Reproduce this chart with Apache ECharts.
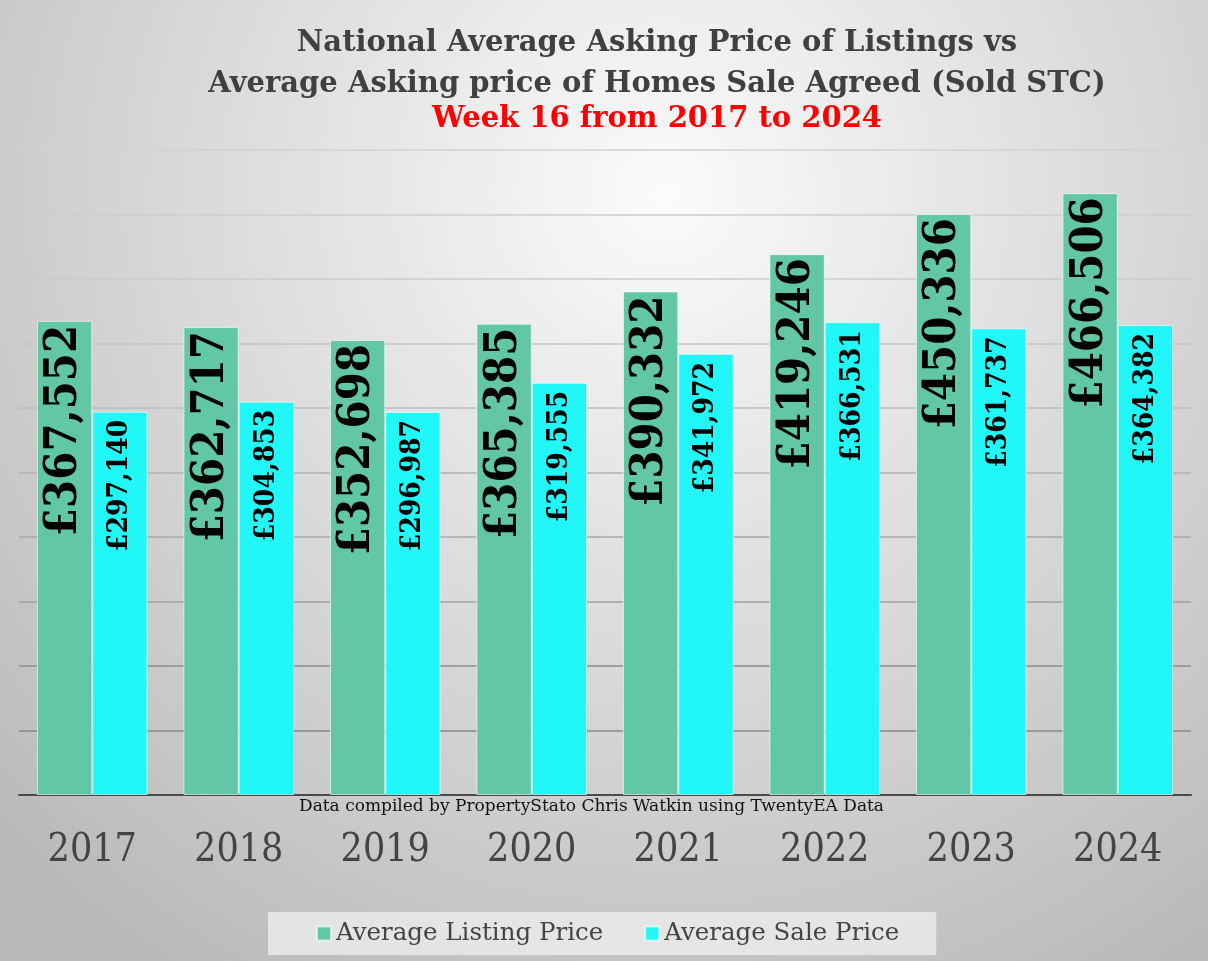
<!DOCTYPE html>
<html>
<head>
<meta charset="utf-8">
<script src="https://cdn.jsdelivr.net/npm/echarts@6/dist/echarts.min.js"></script>
<style>
html,body{margin:0;padding:0;}
#chart{width:1208px;height:961px;}
</style>
</head>
<body>
<div id="chart"></div>
<script>
const years = ['2017','2018','2019','2020','2021','2022','2023','2024'];
const listingPrice = [367552, 362717, 352698, 365385, 390332, 419246, 450336, 466506];
const salePrice = [297140, 304853, 296987, 319555, 341972, 366531, 361737, 364382];
const seriesNames = ['Average Listing Price', 'Average Sale Price'];
const titleLines = ['National Average Asking Price of Listings vs', 'Average Asking price of Homes Sale Agreed (Sold STC)'];
const subtitle = 'Week 16 from 2017 to 2024';
const footnote = 'Data compiled by PropertyStato Chris Watkin using TwentyEA Data';

function fmt(v){ return '£' + v.toLocaleString('en-GB'); }

const chart = echarts.init(document.getElementById('chart'));
const serifC = '"DejaVu Serif Condensed", "DejaVu Serif", serif';
const serif = '"DejaVu Serif", serif';
chart.setOption({
  animation: false,
  backgroundColor: {
    type: 'radial', x: 0.55, y: 0.2, r: 0.95,
    colorStops: [{offset: 0, color: '#fbfbfb'}, {offset: 1, color: '#bababa'}]
  },
  title: [
    {text: titleLines[0] + '\n' + titleLines[1], left: 652, top: 18, textAlign: 'center',
     textStyle: {fontFamily: serif, fontWeight: 'bold', fontSize: 29, color: '#404040', lineHeight: 41}},
    {text: subtitle, left: 652, top: 100, textAlign: 'center',
     textStyle: {fontFamily: serif, fontWeight: 'bold', fontSize: 29, color: '#ff0000'}}
  ],
  graphic: [
    {type: 'text', left: 299, top: 798, style: {text: footnote, font: '17px ' + serif, fill: '#111'}},
  ],
  legend: {
    bottom: 6, left: 268,
    backgroundColor: 'rgba(232,232,232,0.9)',
    padding: [9, 37, 9, 48],
    itemWidth: 14, itemHeight: 14, itemGap: 41,
    icon: 'rect',
    textStyle: {fontFamily: serif, fontSize: 24.5, color: '#444'},
    data: seriesNames
  },
  grid: {left: 19, right: 17, top: 150, bottom: 166},
  xAxis: {
    type: 'category', data: years,
    axisLine: {lineStyle: {color: '#4a4a4a', width: 2}},
    axisTick: {show: false},
    axisLabel: {margin: 36, fontFamily: serifC, fontSize: 39, color: '#444'}
  },
  yAxis: {
    type: 'value', min: 0, max: 500000, interval: 50000,
    axisLabel: {show: false},
    axisLine: {show: false},
    splitLine: {lineStyle: {width: 1.5, color: ['#555', '#888', '#8c8c8c', '#a0a0a0', '#a8a8a8', '#b0b0b0', '#bcbcbc', '#c4c4c4', '#cbcbcb', '#cecece', '#d2d2d2']}}
  },
  series: [
    {
      name: seriesNames[0], type: 'bar', data: listingPrice,
      barGap: '0%', barCategoryGap: '24.5%',
      itemStyle: {color: '#62c7a6', borderColor: 'rgba(255,255,255,0.6)', borderWidth: 1},
      label: {show: true, position: 'insideTop', rotate: 90, align: 'right', verticalAlign: 'middle',
        distance: 4, formatter: p => fmt(p.value),
        fontFamily: serifC, fontWeight: 'bold', fontSize: 45, color: '#000'}
    },
    {
      name: seriesNames[1], type: 'bar', data: salePrice,
      itemStyle: {color: '#21f7f7', borderColor: 'rgba(255,255,255,0.6)', borderWidth: 1},
      label: {show: true, position: 'insideTop', rotate: 90, align: 'right', verticalAlign: 'middle',
        distance: 8, formatter: p => fmt(p.value),
        fontFamily: serifC, fontWeight: 'bold', fontSize: 28, color: '#000'}
    }
  ]
});
</script>
</body>
</html>
